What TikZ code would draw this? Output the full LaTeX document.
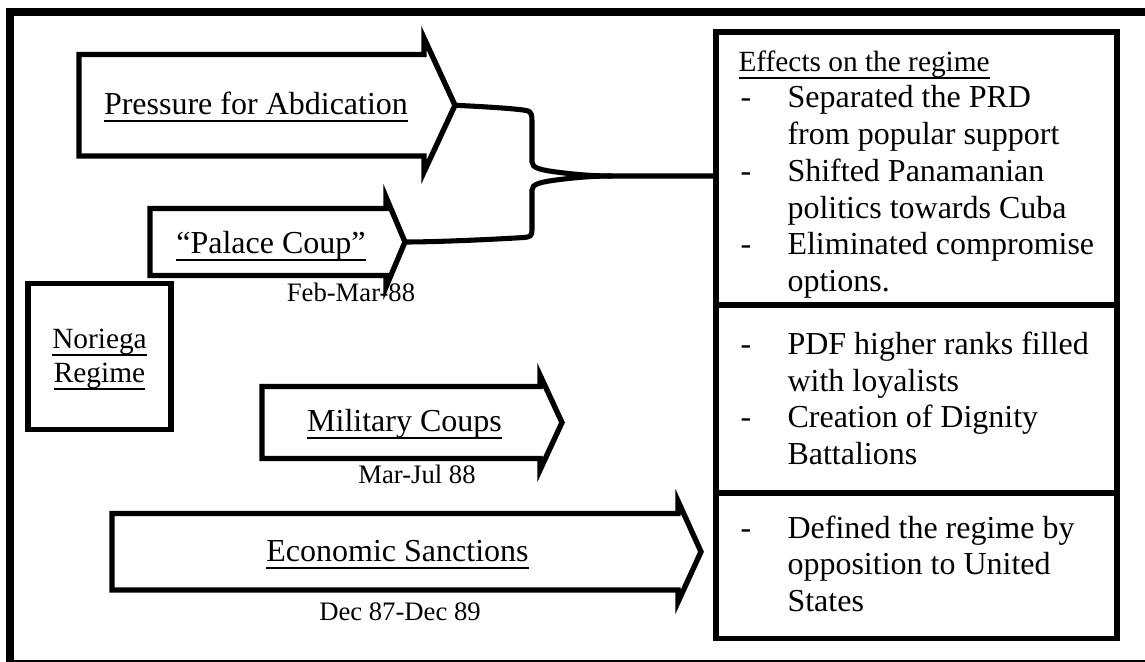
\documentclass[tikz,border=0pt]{standalone}
\usepackage{fontspec}
\setmainfont{Liberation Serif}
\usetikzlibrary{fit}

% underline at a fixed depth below the baseline
\newcommand\ulin[1]{\leavevmode\setbox0=\hbox{#1}\rlap{\rule[-2.5pt]{\wd0}{0.8pt}}\box0}
% left-aligned block of explicit lines, baseline on its first line
\newcommand\twolines[1]{\parbox[t]{170pt}{\raggedright #1}}
% block arrow: name of tip, left x, body top, body bottom, head x, head top, head bottom, tip x
\newcommand\blockarrow[8]{%
  \draw[arrowline] (#2,#3) -- (#5,#3) -- (#5,#6) -- (#8,{(#3+#4)/2}) -- (#5,#7) -- (#5,#4) -- (#2,#4) -- cycle;
  \coordinate (#1) at (#8,{(#3+#4)/2});}

\begin{document}
\begin{tikzpicture}[x=0.375pt,y=-0.375pt,
  arrowline/.style={line width=2pt, line join=miter, miter limit=12},
  boxline/.style={draw, line width=2pt, inner sep=0pt},
  brace/.style={line width=1.9pt},
  lblbig/.style={font=\fontsize{12}{13.8}\selectfont, inner sep=0pt},
  lblmid/.style={font=\fontsize{11}{12.75}\selectfont, inner sep=0pt},
  lbldate/.style={font=\fontsize{10}{11.5}\selectfont, inner sep=0pt, anchor=base},
  lbldash/.style={lblbig, anchor=base west},
  lblentry/.style={lblbig, anchor=base west}]

\useasboundingbox (0,0) rectangle (1145,662);
\clip (0,0) rectangle (1145,662);

% outer frame
\draw[line width=3pt] (9.5,12) rectangle (1160,664);

% dates (drawn first so arrow outlines pass over them)
\node[lbldate] (pc-date) at (351,302) {Feb-Mar-88};
\node[lbldate] (mc-date) at (417,483) {Mar-Jul 88};
\node[lbldate] (es-date) at (400,620) {Dec 87-Dec 89};

% block arrows
\blockarrow{pa-tip}{79}{54.5}{156}{424}{38}{172}{455}
\blockarrow{pc-tip}{150}{208.5}{275.5}{386}{197}{287}{405}
\blockarrow{mc-tip}{262}{386.5}{458.5}{540}{375}{470}{562}
\blockarrow{es-tip}{112}{513.5}{590}{678}{501}{602}{701}

\node[lblbig, anchor=base] (pa-text) at (256,115) {\ulin{Pressure for Abdication}};
\node[lblbig, anchor=base] (pc-text) at (271,254) {\ulin{``Palace Coup''}};
\node[lblbig, anchor=base] (mc-text) at (404.5,432) {\ulin{Military Coups}};
\node[lblbig, anchor=base] (es-text) at (397.5,562) {\ulin{Economic Sanctions}};

% regime box
\node[boxline, fit={(28,283.5) (171,429.5)}] (nor) {};
\node[lblmid, anchor=base] (nor-text) at (99.5,349)
  {\parbox[t]{60pt}{\centering\ulin{Noriega}\\\ulin{Regime}}};

% effects boxes
\node[boxline, fit={(716,32) (1117,305)}] (eff1) {};
\node[boxline, fit={(716,305) (1117,493)}] (eff2) {};
\node[boxline, fit={(716,493) (1117,638.5)}] (eff3) {};

\node[lblmid, anchor=base west] (eff-head) at (738,72) {\ulin{Effects on the regime}};
\node[lbldash] (d1) at (740,108) {-};
\node[lblentry] (e1) at (787,108) {\twolines{Separated the PRD\\from popular support}};
\node[lbldash] (d2) at (740,182) {-};
\node[lblentry] (e2) at (787,182) {\twolines{Shifted Panamanian\\politics towards Cuba}};
\node[lbldash] (d3) at (740,255) {-};
\node[lblentry] (e3) at (787,255) {\twolines{Eliminated compromise\\options.}};

\node[lbldash] (d4) at (740,355) {-};
\node[lblentry] (e4) at (787,355) {\twolines{PDF higher ranks filled\\with loyalists}};
\node[lbldash] (d5) at (740,428) {-};
\node[lblentry] (e5) at (787,428) {\twolines{Creation of Dignity\\Battalions}};

\node[lbldash] (d6) at (740,538) {-};
\node[lblentry] (e6) at (787,538) {\twolines{Defined the regime by\\opposition to United\\States}};

% brace joining the two upper arrows to the effects box
\coordinate (merge) at (612,176);
\draw[brace] (pa-tip) .. controls (490,107) and (522,109) .. (528,111)
  .. controls (531,112) and (532,115) .. (532,121) -- (532,162)
  .. controls (532,168) and (540,170) .. (560,172.5)
  .. controls (580,175) and (596,176) .. (merge) -- (eff1.west |- merge);
\draw[brace] (merge) .. controls (596,176) and (580,177) .. (560,179.5)
  .. controls (540,182) and (532,184) .. (532,190) -- (532,230)
  .. controls (532,236) and (530,237) .. (524,237.5)
  .. controls (500,239) and (440,242) .. (pc-tip);
\end{tikzpicture}
\end{document}
